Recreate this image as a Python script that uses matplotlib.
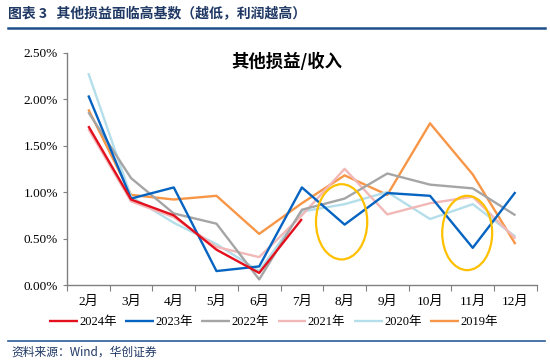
import matplotlib
matplotlib.use("Agg")
import matplotlib.pyplot as plt
from matplotlib.patches import Ellipse
from matplotlib.ticker import FixedLocator, FuncFormatter

plt.rcParams['font.family'] = ['Liberation Serif', 'Noto Sans CJK SC', 'DejaVu Sans']

# 其他损益/收入 (%)
months = ["2月", "3月", "4月", "5月", "6月", "7月", "8月", "9月", "10月", "11月", "12月"]
y2024 = [1.71, 0.92, 0.75, 0.38, 0.13, 0.71]
y2023 = [2.04, 0.93, 1.05, 0.15, 0.20, 1.05, 0.65, 0.99, 0.96, 0.40, 1.00]
y2022 = [1.86, 1.15, 0.77, 0.66, 0.06, 0.81, 0.93, 1.20, 1.08, 1.04, 0.75]
y2021 = [1.68, 0.90, 0.73, 0.41, 0.30, 0.75, 1.25, 0.76, 0.88, 0.95, 0.50]
y2020 = [2.28, 0.95, 0.67, 0.44, 0.15, 0.79, 0.87, 1.00, 0.71, 0.87, 0.52]
y2019 = [1.89, 0.97, 0.92, 0.96, 0.55, 0.88, 1.18, 0.97, 1.74, 1.19, 0.44]

series = [
    ("2024年", y2024, "#E3101E"),
    ("2023年", y2023, "#0563C1"),
    ("2022年", y2022, "#A5A5A5"),
    ("2021年", y2021, "#F2B8B8"),
    ("2020年", y2020, "#B4DEEA"),
    ("2019年", y2019, "#F79646"),
]

# highlighted months: (centre x index, centre y, width, height)
circles = [(5.93, 0.68, 1.2, 0.81), (8.87, 0.56, 1.17, 0.80)]

fig = plt.figure(figsize=(5.5, 3.62), dpi=100)
ax = fig.add_axes([0.1218, 0.2127, 0.976 - 0.1218, 0.6417])

# draw order: older years behind
for name, vals, col in reversed(series):
    ax.plot(range(len(vals)), vals, color=col, linewidth=1.7, label=name,
            solid_capstyle="butt")

for cx, cy, w, h in circles:
    ax.add_patch(Ellipse((cx, cy), w, h, fill=False, edgecolor="#FFC000",
                         linewidth=1.6, zorder=5))

ax.set_xlim(-0.5, len(months) - 0.5)
ax.set_ylim(0, 2.5)
ax.yaxis.set_major_locator(FixedLocator([0, 0.5, 1.0, 1.5, 2.0, 2.5]))
ax.yaxis.set_major_formatter(FuncFormatter(lambda v, p: "%.2f%%" % v))

ax.xaxis.set_major_locator(FixedLocator([i - 0.5 for i in range(len(months) + 1)]))
ax.xaxis.set_major_formatter(FuncFormatter(lambda v, p: ""))
ax.xaxis.set_minor_locator(FixedLocator(range(len(months))))
ax.set_xticklabels(months, minor=True)
ax.tick_params(axis="x", which="minor", length=0, pad=8, labelsize=9.5)
ax.tick_params(axis="x", which="major", length=4, color="#808080")
ax.tick_params(axis="y", length=3, color="#808080", labelsize=9.5)

for s in ["top", "right"]:
    ax.spines[s].set_visible(False)
for s in ["left", "bottom"]:
    ax.spines[s].set_color("#808080")
    ax.spines[s].set_linewidth(1.0)

ax.text(0.468, 0.96, "其他损益/收入", transform=ax.transAxes, ha="center", va="center",
        fontsize=12.5, fontweight="bold", family=["Noto Sans CJK SC", "DejaVu Sans"])

handles, labels = ax.get_legend_handles_labels()
fig.legend(handles[::-1], labels[::-1], loc="center", bbox_to_anchor=(0.497, 0.11), ncol=6,
           frameon=False, fontsize=9, handlelength=2.3, handletextpad=0.1,
           columnspacing=0.7)

# report header / footer
fig.text(0.015, 0.96, "图表 3   其他损益面临高基数（越低，利润越高）", ha="left", va="center",
         fontsize=10, fontweight="bold", color="#1F3864",
         family=["Noto Sans CJK SC", "DejaVu Sans"])
fig.add_artist(plt.Line2D([0.015, 0.99], [0.922, 0.922], color="#1F4E8C", linewidth=1.8))
fig.add_artist(plt.Line2D([0.015, 0.99], [0.059, 0.059], color="#2E5C9A", linewidth=1.2))
fig.text(0.02, 0.028, "资料来源：Wind，华创证券", ha="left", va="center",
         fontsize=8.5, style="italic", color="#1F3864",
         family=["Noto Sans CJK SC", "DejaVu Sans"])

fig.savefig("out.png", dpi=100)
